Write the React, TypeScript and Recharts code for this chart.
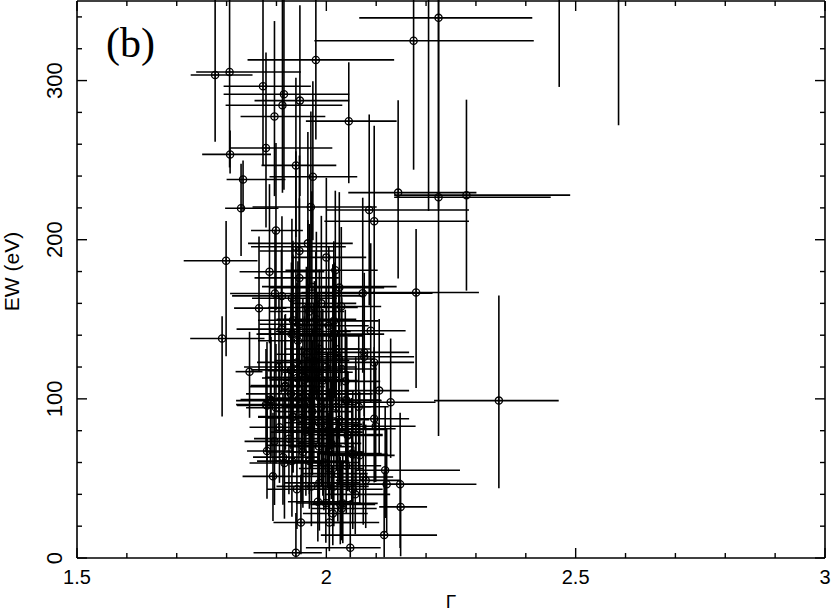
import React from 'react';
import { ScatterChart, Scatter, XAxis, YAxis, ErrorBar } from 'recharts';

// Each row: [Gamma, Gamma err -, Gamma err +, EW (eV), EW err -, EW err +]
type Row = [number, number, number, number, number, number];

const highPoints: Row[] = [
  [1.777, 0.049, 0.075, 303.5, 42, 80],
  [1.806, 0.067, 0.143, 305.4, 60, 80],
  [1.979, 0.137, 0.157, 313, 50, 60],
  [2.175, 0.199, 0.241, 325, 81, 60],
  [2.225, 0.159, 0.188, 339.4, 120, 40],
  [2.144, 0.1, 0.157, 229.6, 54, 58],
  [2.281, 0.145, 0.208, 228, 60, 60],
  [2.225, 0.089, 0.225, 226.7, 150, 130],
  [2.18, 0.23, 0.126, 166.8, 60, 40],
  [2.467, 0.1, 0.1, 400, 104, 50],
  [2.586, 0.1, 0.1, 395, 123, 50],
  [2.205, 0.1, 0.1, 380, 162, 50],
  [2.346, 0.13, 0.12, 98.9, 55, 66],
  [1.873, 0.079, 0.096, 296.4, 50, 60],
  [1.915, 0.121, 0.131, 291.4, 60, 60],
  [1.912, 0.114, 0.12, 284.5, 55, 70],
  [1.947, 0.091, 0.099, 287.4, 60, 60],
  [1.896, 0.068, 0.102, 277.4, 50, 60],
  [2.045, 0.086, 0.096, 274.5, 39, 37],
  [1.807, 0.056, 0.082, 253.6, 12, 15],
  [1.879, 0.073, 0.133, 257.6, 50, 60],
  [1.939, 0.069, 0.081, 246.7, 45, 55],
  [1.973, 0.087, 0.089, 239.6, 40, 60],
  [1.833, 0.033, 0.085, 237.8, 20, 12],
  [1.829, 0.032, 0.075, 219.8, 30, 28],
  [1.969, 0.117, 0.132, 220.6, 50, 60],
  [2.086, 0.086, 0.2, 218.7, 60, 60],
  [2.096, 0.1, 0.19, 211.6, 45, 60],
  [1.899, 0.05, 0.054, 205.8, 50, 55],
];

const midPoints: Row[] = [
  [1.799, 0.085, 0.063, 186.8, 60, 25],
  [1.939, 0.09, 0.1, 195.6, 50, 60],
  [1.946, 0.08, 0.07, 192.9, 55, 60],
  [1.963, 0.12, 0.09, 197.7, 50, 70],
  [2.0, 0.07, 0.08, 188.9, 40, 50],
  [1.886, 0.06, 0.11, 179.9, 45, 55],
  [2.018, 0.1, 0.085, 180.8, 60, 50],
  [1.946, 0.09, 0.08, 176, 40, 50],
  [1.971, 0.1, 0.17, 170.5, 50, 60],
  [2.026, 0.14, 0.09, 169.9, 55, 60],
  [1.897, 0.09, 0.18, 166.2, 50, 40],
  [1.911, 0.1, 0.16, 164.7, 50, 50],
  [2.073, 0.13, 0.14, 166.4, 50, 60],
  [1.931, 0.08, 0.09, 163.2, 45, 50],
  [1.791, 0.064, 0.085, 137.9, 49, 14],
  [1.846, 0.028, 0.026, 117.1, 29, 25],
  [1.865, 0.05, 0.055, 157, 40, 45],
  [1.963, 0.08, 0.1, 157.4, 45, 55],
  [1.91, 0.09, 0.08, 143.8, 40, 50],
  [2.015, 0.08, 0.09, 149, 45, 50],
  [2.016, 0.07, 0.1, 140.7, 40, 45],
  [2.089, 0.08, 0.07, 142.8, 45, 55],
  [2.076, 0.1, 0.09, 129.2, 40, 50],
  [2.076, 0.09, 0.1, 126.5, 45, 40],
  [2.096, 0.07, 0.08, 122.9, 40, 45],
  [2.106, 0.07, 0.06, 105.2, 40, 45],
  [2.129, 0.1, 0.09, 97.9, 35, 40],
  [2.096, 0.08, 0.07, 87.5, 40, 45],
  [2.099, 0.07, 0.08, 82.8, 35, 40],
  [1.966, 0.08, 0.07, 154.9, 45, 55],
  [1.933, 0.07, 0.08, 149.4, 45, 50],
  [1.946, 0.08, 0.07, 146.9, 40, 50],
  [2.005, 0.07, 0.08, 145.9, 45, 50],
  [1.979, 0.08, 0.07, 142.3, 40, 50],
  [1.93, 0.07, 0.06, 140.7, 45, 45],
  [1.99, 0.06, 0.07, 160, 45, 55],
  [2.03, 0.08, 0.08, 158, 50, 50],
  [1.98, 0.08, 0.08, 150, 50, 55],
];

const corePoints: Row[] = [
  [2.031, 0.08, 0.07, 118.8, 40, 45],
  [2.038, 0.08, 0.07, 111, 40, 45],
  [2.013, 0.07, 0.08, 103.1, 35, 40],
  [2.039, 0.06, 0.07, 99.3, 40, 45],
  [1.929, 0.08, 0.07, 118.2, 40, 45],
  [1.917, 0.07, 0.08, 107.7, 40, 45],
  [1.929, 0.09, 0.07, 103.1, 35, 40],
  [1.888, 0.06, 0.07, 99.6, 40, 45],
  [1.881, 0.06, 0.07, 95.8, 35, 40],
  [1.941, 0.08, 0.07, 122.9, 45, 50],
  [1.941, 0.07, 0.08, 113.1, 40, 45],
  [1.957, 0.08, 0.07, 113.5, 40, 45],
  [1.969, 0.08, 0.09, 96.4, 40, 45],
  [1.933, 0.07, 0.06, 88.5, 35, 40],
  [1.918, 0.07, 0.06, 108.3, 40, 45],
  [1.956, 0.07, 0.08, 111.9, 45, 40],
  [1.993, 0.08, 0.07, 111.5, 40, 45],
  [2.009, 0.07, 0.06, 103.1, 35, 45],
  [2.041, 0.06, 0.07, 98.9, 40, 40],
  [1.889, 0.07, 0.08, 98.9, 35, 40],
  [1.879, 0.06, 0.1, 96.4, 30, 35],
  [1.899, 0.06, 0.07, 94.4, 35, 40],
  [1.972, 0.07, 0.08, 92, 40, 45],
  [1.933, 0.07, 0.08, 88.9, 35, 40],
  [2.026, 0.07, 0.06, 86.9, 40, 45],
  [1.906, 0.06, 0.07, 82.2, 35, 40],
  [2.002, 0.06, 0.07, 84, 40, 45],
  [2.059, 0.07, 0.06, 80.8, 35, 40],
  [1.966, 0.07, 0.08, 80.1, 40, 45],
  [1.943, 0.08, 0.07, 136.5, 45, 50],
  [1.986, 0.07, 0.08, 131.3, 45, 50],
  [2.019, 0.08, 0.07, 131.3, 40, 50],
  [1.933, 0.07, 0.08, 140.7, 45, 50],
  [2.013, 0.07, 0.06, 139.6, 40, 45],
  [1.976, 0.08, 0.07, 124, 45, 50],
  [1.953, 0.07, 0.08, 117.7, 40, 45],
  [1.983, 0.07, 0.07, 116.7, 45, 50],
  [1.97, 0.07, 0.06, 100.5, 40, 45],
  [1.95, 0.07, 0.07, 88, 40, 45],
  [2.02, 0.06, 0.07, 95, 40, 45],
  [1.975, 0.07, 0.08, 105, 45, 55],
  [1.99, 0.08, 0.07, 95, 50, 60],
  [1.96, 0.06, 0.07, 128, 50, 55],
  [2.0, 0.07, 0.06, 120, 55, 50],
  [1.985, 0.07, 0.08, 85, 40, 50],
  [1.945, 0.06, 0.07, 100, 40, 50],
  [2.025, 0.07, 0.07, 125, 50, 45],
  [2.065, 0.07, 0.06, 95, 40, 45],
  [1.905, 0.07, 0.07, 120, 40, 45],
];

const lowPoints: Row[] = [
  [1.896, 0.06, 0.09, 73.3, 40, 45],
  [1.881, 0.04, 0.05, 67.2, 30, 35],
  [1.893, 0.061, 0.107, 51.3, 28, 40],
  [1.916, 0.07, 0.08, 59.7, 35, 40],
  [1.951, 0.07, 0.08, 70.8, 35, 40],
  [1.993, 0.07, 0.08, 79.1, 40, 45],
  [2.043, 0.08, 0.07, 77.5, 35, 40],
  [2.059, 0.07, 0.08, 81.2, 40, 45],
  [2.006, 0.08, 0.07, 66.6, 35, 40],
  [2.051, 0.07, 0.06, 65.6, 30, 35],
  [2.067, 0.06, 0.07, 64.5, 30, 40],
  [1.941, 0.06, 0.08, 43.2, 25, 35],
  [1.986, 0.07, 0.08, 47.2, 30, 35],
  [2.023, 0.07, 0.06, 53, 30, 35],
  [2.079, 0.06, 0.07, 48.8, 30, 35],
  [2.053, 0.07, 0.06, 43.2, 25, 30],
  [1.999, 0.06, 0.07, 34.6, 25, 35],
  [2.028, 0.06, 0.07, 33.6, 25, 30],
  [2.031, 0.06, 0.07, 31.1, 20, 30],
  [2.118, 0.06, 0.15, 55.1, 30, 40],
  [2.121, 0.1, 0.18, 46.3, 30, 35],
  [2.148, 0.08, 0.1, 46.3, 40, 45],
  [2.149, 0.043, 0.053, 32.1, 31, 17],
  [2.116, 0.127, 0.106, 14.4, 14, 40],
  [2.048, 0.089, 0.061, 6.4, 6, 30],
  [1.939, 0.085, 0.052, 3.3, 3, 25],
  [1.949, 0.055, 0.109, 22.3, 20, 30],
  [2.006, 0.06, 0.1, 22.3, 18, 25],
  [1.913, 0.06, 0.07, 63.4, 30, 40],
  [1.931, 0.07, 0.06, 60.9, 35, 40],
  [2.005, 0.06, 0.07, 56.2, 30, 35],
  [2.053, 0.06, 0.07, 65.1, 35, 40],
  [2.074, 0.07, 0.06, 50.9, 30, 35],
  [2.058, 0.06, 0.07, 40, 25, 30],
  [2.033, 0.06, 0.07, 34.3, 25, 30],
  [1.953, 0.07, 0.06, 66.6, 35, 40],
  [1.966, 0.07, 0.08, 60.9, 30, 35],
  [1.959, 0.07, 0.06, 79.1, 40, 45],
  [2.043, 0.06, 0.07, 77, 35, 40],
  [2.026, 0.07, 0.06, 81.2, 35, 40],
  [1.983, 0.06, 0.07, 35.3, 25, 30],
  [2.013, 0.06, 0.07, 28, 20, 30],
  [1.985, 0.06, 0.07, 70, 35, 40],
  [2.01, 0.07, 0.06, 72, 35, 40],
  [1.995, 0.08, 0.07, 60, 30, 40],
  [2.04, 0.07, 0.07, 58, 30, 40],
  [1.97, 0.07, 0.08, 45, 25, 35],
  [2.015, 0.06, 0.07, 45, 25, 35],
  [1.925, 0.07, 0.08, 75, 35, 45],
];

const xDomain: [number, number] = [1.5, 3];
const yDomain: [number, number] = [0, 350];
const xTicks = [1.5, 1.6, 1.7, 1.8, 1.9, 2, 2.1, 2.2, 2.3, 2.4, 2.5, 2.6, 2.7, 2.8, 2.9, 3];
const xMajorTicks = [1.5, 2, 2.5, 3];
const xTickLabels = ['1.5', '2', '2.5', '3'];
const yTicks = [0, 20, 40, 60, 80, 100, 120, 140, 160, 180, 200, 220, 240, 260, 280, 300, 320, 340];
const yMajorTicks = [0, 100, 200, 300];
const yTickLabels = ['0', '100', '200', '300'];
const panelLabel = '(b)';
const xTitle = 'Γ';
const yTitle = 'EW (eV)';

const data = [...highPoints, ...midPoints, ...corePoints, ...lowPoints].map(([g, gm, gp, ew, em, ep]) => ({
  gamma: g,
  ew,
  gammaErr: [gm, gp],
  ewErr: [em, ep],
}));

const FONT = 'Liberation Sans, Arial, Helvetica, sans-serif';
const INK = '#000';

const majorIndex = (list: number[], v: number) => list.findIndex((m) => Math.abs(m - v) < 1e-6);

const BottomTick = (props: any) => {
  const { x, y, payload } = props;
  const i = majorIndex(xMajorTicks, payload.value);
  return (
    <g>
      <line x1={x} y1={y} x2={x} y2={y - (i >= 0 ? 10 : 5)} stroke={INK} strokeWidth={1.4} />
      {i >= 0 && (
        <text x={x} y={y + 26} textAnchor="middle" fontSize={20} fontFamily={FONT} fill={INK}>
          {xTickLabels[i]}
        </text>
      )}
    </g>
  );
};

const TopTick = (props: any) => {
  const { x, y, payload } = props;
  const i = majorIndex(xMajorTicks, payload.value);
  return <line x1={x} y1={y} x2={x} y2={y + (i >= 0 ? 10 : 5)} stroke={INK} strokeWidth={1.4} />;
};

const LeftTick = (props: any) => {
  const { x, y, payload } = props;
  const i = majorIndex(yMajorTicks, payload.value);
  const tx = x - 15;
  return (
    <g>
      <line x1={x} y1={y} x2={x + (i >= 0 ? 10 : 5)} y2={y} stroke={INK} strokeWidth={1.4} />
      {i >= 0 && (
        <text
          x={tx}
          y={y}
          transform={`rotate(-90 ${tx} ${y})`}
          textAnchor="middle"
          fontSize={22}
          fontFamily={FONT}
          fill={INK}
        >
          {yTickLabels[i]}
        </text>
      )}
    </g>
  );
};

const RightTick = (props: any) => {
  const { x, y, payload } = props;
  const i = majorIndex(yMajorTicks, payload.value);
  return <line x1={x} y1={y} x2={x - (i >= 0 ? 10 : 5)} y2={y} stroke={INK} strokeWidth={1.4} />;
};

const XTitle = (props: any) => {
  const vb = props.viewBox || { x: 77, y: 558, width: 748, height: 54 };
  return (
    <text x={vb.x + vb.width / 2} y={vb.y + 50} textAnchor="middle" fontSize={19} fontFamily={FONT} fill={INK}>
      {xTitle}
    </text>
  );
};

const YTitle = (props: any) => {
  const vb = props.viewBox || { x: 0, y: 0, width: 77, height: 558 };
  const tx = vb.x + 19;
  const ty = vb.y + vb.height / 2 - 8;
  return (
    <text x={tx} y={ty} transform={`rotate(-90 ${tx} ${ty})`} textAnchor="middle" fontSize={21} fontFamily={FONT} fill={INK}>
      {yTitle}
    </text>
  );
};

const PanelTitle = (props: any) => {
  const vb = props.viewBox || { x: 77, y: 0, width: 748, height: 1 };
  return (
    <text x={vb.x + 29} y={vb.y + 57} fontSize={42} fontFamily="Liberation Serif, Times New Roman, serif" fill={INK}>
      {panelLabel}
    </text>
  );
};

const Marker = (props: any) => {
  const { cx, cy } = props;
  if (cx == null || cy == null || isNaN(cx) || isNaN(cy)) return null;
  const r = 3.6;
  return (
    <g>
      <circle cx={cx} cy={cy} r={r} fill="none" stroke={INK} strokeWidth={1.3} />
      <line x1={cx - r} y1={cy} x2={cx + r} y2={cy} stroke={INK} strokeWidth={1} />
      <line x1={cx} y1={cy - r} x2={cx} y2={cy + r} stroke={INK} strokeWidth={1} />
    </g>
  );
};

export default function App() {
  return (
    <div style={{ position: 'absolute', left: 0, top: 0, background: '#fff' }}>
      <ScatterChart width={831} height={612} margin={{ top: 0, right: 5, bottom: 0, left: 0 }}>
        <XAxis
          xAxisId={0}
          type="number"
          dataKey="gamma"
          domain={xDomain}
          allowDataOverflow
          ticks={xTicks}
          interval={0}
          tickSize={0}
          tickMargin={0}
          tickLine={false}
          tick={<BottomTick />}
          axisLine={{ stroke: INK, strokeWidth: 1.6 }}
          height={54}
          orientation="bottom"
          label={<XTitle />}
        />
        <XAxis
          xAxisId="top"
          type="number"
          dataKey="gamma"
          domain={xDomain}
          allowDataOverflow
          ticks={xTicks}
          interval={0}
          tickSize={0}
          tickMargin={0}
          tickLine={false}
          tick={<TopTick />}
          axisLine={{ stroke: INK, strokeWidth: 1.6 }}
          height={1}
          orientation="top"
          label={<PanelTitle />}
        />
        <YAxis
          yAxisId={0}
          type="number"
          dataKey="ew"
          domain={yDomain}
          allowDataOverflow
          ticks={yTicks}
          interval={0}
          tickSize={0}
          tickMargin={0}
          tickLine={false}
          tick={<LeftTick />}
          axisLine={{ stroke: INK, strokeWidth: 1.6 }}
          width={77}
          orientation="left"
          label={<YTitle />}
        />
        <YAxis
          yAxisId="right"
          type="number"
          dataKey="ew"
          domain={yDomain}
          allowDataOverflow
          ticks={yTicks}
          interval={0}
          tickSize={0}
          tickMargin={0}
          tickLine={false}
          tick={<RightTick />}
          axisLine={{ stroke: INK, strokeWidth: 1.6 }}
          width={1}
          orientation="right"
        />
        <Scatter data={data} xAxisId={0} yAxisId={0} shape={<Marker />} isAnimationActive={false}>
          <ErrorBar dataKey="gammaErr" direction="x" width={0} stroke={INK} strokeWidth={1.6} isAnimationActive={false} />
          <ErrorBar dataKey="ewErr" direction="y" width={0} stroke={INK} strokeWidth={1.6} isAnimationActive={false} />
        </Scatter>
      </ScatterChart>
    </div>
  );
}
